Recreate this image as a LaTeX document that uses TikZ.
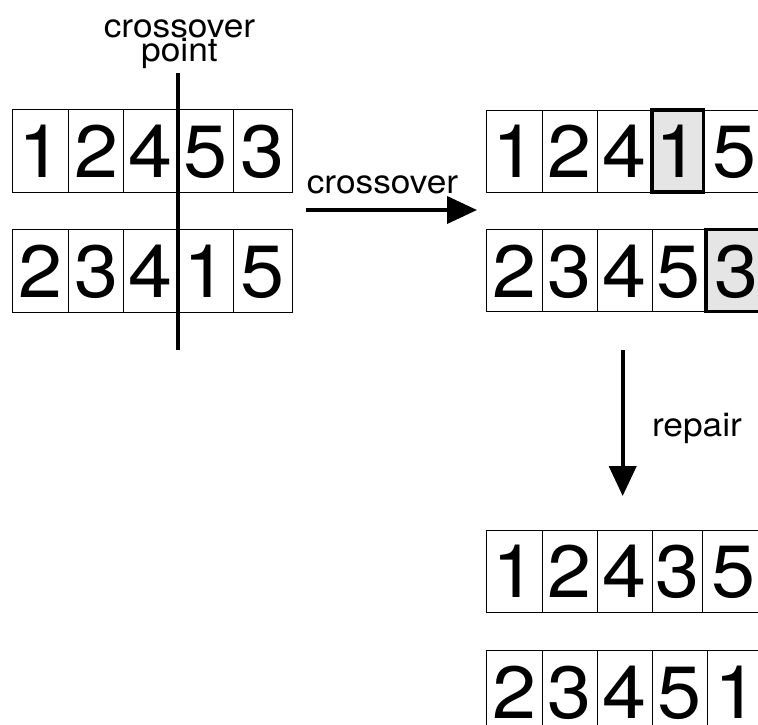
\documentclass[tikz,border=0pt]{standalone}
\usepackage{fontspec}
\setmainfont{TeX Gyre Heros}[FakeStretch=1.07]
\usetikzlibrary{arrows.meta}
\tikzset{
  cell/.style={draw=black, line width=1pt, inner sep=0pt, outer sep=0pt,
    text height=53pt, text depth=0pt,
    font=\fontsize{74}{74}\selectfont},
  hl/.style={fill=black!10, line width=3.3pt},
  bigarrow/.style={line width=4pt, -{Triangle[length=30pt,width=27pt]}},
  lbl/.style={font=\fontsize{33}{24.4}\selectfont, inner sep=0pt, outer sep=0pt}
}
% [#1 style] #2 name, #3 x-left, #4 x-right, #5 y-top, #6 y-bottom, #7 text
\newcommand{\cellbox}[7][]{%
  \node[cell,#1,minimum width={(#4-#3)*1pt},minimum height={(#6-#5)*1pt}]
    (#2) at ({(#3+#4)/2},{(#5+#6)/2}) {#7};}
\begin{document}
\begin{tikzpicture}[x=1pt,y=-1pt]
\useasboundingbox (0,0) rectangle (758,725);
\clip (0,0) rectangle (758,725);
% left parents
\cellbox{a1}{12.7}{68.7}{109.3}{192.3}{1}
\cellbox{a2}{68.7}{123.7}{109.3}{192.3}{2}
\cellbox{a3}{123.7}{178.3}{109.3}{192.3}{4}
\cellbox{a4}{178.3}{233.3}{109.3}{192.3}{5}
\cellbox{a5}{233.3}{292.7}{109.3}{192.3}{3}
\cellbox{b1}{12.7}{68.7}{229.3}{312.3}{2}
\cellbox{b2}{68.7}{123.7}{229.3}{312.3}{3}
\cellbox{b3}{123.7}{178.3}{229.3}{312.3}{4}
\cellbox{b4}{178.3}{233.3}{229.3}{312.3}{1}
\cellbox{b5}{233.3}{292.7}{229.3}{312.3}{5}
% crossover point
\coordinate (cpTop) at (178.3,73);
\coordinate (cpBot) at (178.3,350);
\draw[line width=4pt] (cpTop) -- (cpBot);
\node[lbl, align=center, anchor=base] (cplbl) at (179.5,61.7) {crossover\\point};
% right children
\cellbox{c1}{486.7}{542.3}{110}{192}{1}
\cellbox{c2}{542.3}{597.3}{110}{192}{2}
\cellbox{c3}{597.3}{652}{110}{192}{4}
\cellbox{c5}{703.5}{765}{110}{192}{5}
\cellbox[hl]{c4}{652}{703.5}{110}{192}{1}
\cellbox{d1}{486.7}{542.3}{229.5}{311.7}{2}
\cellbox{d2}{542.3}{597.3}{229.5}{311.7}{3}
\cellbox{d3}{597.3}{652}{229.5}{311.7}{4}
\cellbox{d4}{652}{706}{229.5}{311.7}{5}
\cellbox[hl]{d5}{706}{768}{229.5}{311.7}{3}
% repaired
\cellbox{e1}{486.7}{542.7}{530}{612.7}{1}
\cellbox{e2}{542.7}{597.3}{530}{612.7}{2}
\cellbox{e3}{597.3}{652.3}{530}{612.7}{4}
\cellbox{e4}{652.3}{702.3}{530}{612.7}{3}
\cellbox{e5}{702.3}{765}{530}{612.7}{5}
\cellbox{f1}{486.7}{542.7}{650}{733}{2}
\cellbox{f2}{542.7}{597.3}{650}{733}{3}
\cellbox{f3}{597.3}{652.3}{650}{733}{4}
\cellbox{f4}{652.3}{707.7}{650}{733}{5}
\cellbox{f5}{707.7}{765}{650}{733}{1}
% arrows
\coordinate (xs) at (306,210);
\coordinate (xe) at (477,210);
\draw[bigarrow] (xs) -- (xe);
\node[lbl, anchor=base] (xlbl) at (382.5,193.3) {crossover};
\coordinate (rs) at (622.7,350);
\coordinate (re) at (622.7,496);
\draw[bigarrow] (rs) -- (re);
\node[lbl, anchor=base west] (rlbl) at (652,436.7) {repair};
\end{tikzpicture}
\end{document}
